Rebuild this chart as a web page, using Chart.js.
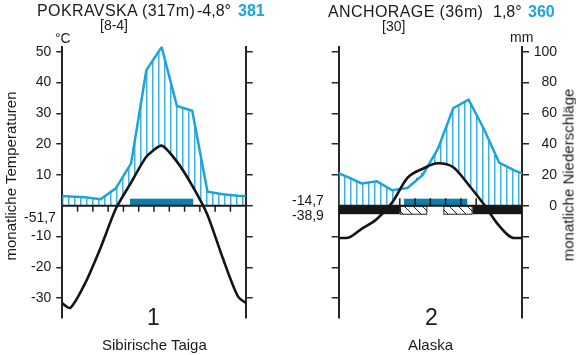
<!DOCTYPE html>
<html><head><meta charset="utf-8">
<script src="https://cdn.jsdelivr.net/npm/chart.js@4.4.1/dist/chart.umd.min.js"></script>
<style>
body{margin:0;background:#fff}
#wrap{position:relative;width:576px;height:355px;overflow:hidden;font-family:"Liberation Sans",Arial,sans-serif;color:#1a1a1a;background:#fff}
.t{position:absolute;white-space:nowrap;line-height:1}
.ttl{letter-spacing:0.4px}
.v{position:absolute;white-space:nowrap;line-height:1;font-size:15px;color:#1a1a1a;transform:translate(-50%,-50%) rotate(-90deg)}
canvas{position:absolute;top:0}
</style></head><body>
<div id="wrap">
<canvas id="c1" width="288" height="355" style="left:0"></canvas>
<canvas id="c2" width="288" height="355" style="left:288px"></canvas>

<span class="t ttl" style="left:37px;top:3px;font-size:16px">POKRAVSKA (317m)</span>
<span class="t" style="left:197px;top:3px;font-size:16px">-4,8°</span>
<span class="t" style="left:238px;top:3px;font-size:16px;font-weight:bold;color:#1ba4dc">381</span>
<span class="t" style="left:100px;top:18px;font-size:14px">[8-4]</span>
<span class="t" style="left:55px;top:31px;font-size:14px">°C</span>
<span class="t" style="left:24px;top:210px;font-size:14px">-51,7</span>
<span class="v" style="left:9.8px;top:175.5px">monatliche Temperaturen</span>
<span class="t" style="left:147px;top:305.5px;font-size:23px">1</span>
<span class="t" style="left:102px;top:337px;font-size:15px">Sibirische Taiga</span>

<span class="t ttl" style="left:328px;top:3.5px;font-size:16px">ANCHORAGE (36m)</span>
<span class="t" style="left:493px;top:3.5px;font-size:16px">1,8°</span>
<span class="t" style="left:528px;top:3.5px;font-size:16px;font-weight:bold;color:#1ba4dc">360</span>
<span class="t" style="left:382px;top:19px;font-size:14px">[30]</span>
<span class="t" style="left:510px;top:30px;font-size:14px">mm</span>
<span class="t" style="left:292px;top:193px;font-size:14px">-14,7</span>
<span class="t" style="left:292px;top:208px;font-size:14px">-38,9</span>
<span class="v" style="left:568px;top:175px">monatliche Niederschläge</span>
<span class="t" style="left:425px;top:305.5px;font-size:23px">2</span>
<span class="t" style="left:408px;top:337px;font-size:15px">Alaska</span>
</div>
<script>
// ---- data ----
const months = ['Jan','Feb','Mär','Apr','Mai','Jun','Jul','Aug','Sep','Okt','Nov','Dez'];
const tempPokravska = [-33.2,-25.1,-13.7,-1,7.5,15.9,19.5,14.3,6.5,-3,-17,-29.5];
const precPokravska = [6,5.5,4.2,11.3,27.5,88,103,64.7,61.7,9.1,7.5,6.5];
const tempAnchorage = [-10.5,-7.5,-4.3,1,9,12,13.8,12.5,6.8,0.5,-6.5,-10.5];
const precAnchorage = [19,14.5,15.8,10,11.5,20,37,63.4,68.8,50,28,23];
const tempTicksLeft = [-30,-20,-10,10,20,30,40,50];
const tempTicksRight = [-30,-20,-10,0,10,20,30,40,50];
const precTicks = [-60,-40,-20,0,20,40,60,80,100];
const frostFree1 = [[4.43,8.57]];
const frostFree2 = [[4.27,8.42]];
const frostBlack2 = [[0,4],[8.77,12]];
const frostHatch2 = [[4,5.8],[6.85,8.77]];
const monthMarks1 = [1,2,3,4,5,6,7,8,9,10,11];
const monthMarks2 = [4,5,6,7,8,9];

// ---- layout ----
const T_MIN = -36.46, T_MAX = 51.69;
const BLUE = '#1ba4dc';

function cyc(vals){
  const pts = [{x:-0.5, y:vals[vals.length-1]}];
  vals.forEach((v,i)=>pts.push({x:i+0.5, y:v}));
  pts.push({x:vals.length+0.5, y:vals[0]});
  return pts;
}
function pat(w,h,draw){
  const c=document.createElement('canvas'); c.width=w; c.height=h;
  const g=c.getContext('2d'); draw(g); return g.createPattern(c,'repeat');
}
const hatch = pat(6,6,g=>{g.fillStyle='#3cb2e3'; g.fillRect(2,0,1.5,6);});
const dots = pat(10,10,g=>{g.fillStyle='#333'; g.fillRect(3,3,1.3,1.3); g.fillRect(8,8,1.3,1.3);});
const diag = pat(9,9,g=>{g.strokeStyle='#222'; g.lineWidth=1; g.beginPath();
  g.moveTo(0,0); g.lineTo(9,9); g.moveTo(-1,8); g.lineTo(1,10); g.moveTo(8,-1); g.lineTo(10,1); g.stroke();});

const decor = {
  id:'decor',
  afterDatasetDraw(chart,args,o){
    if(args.index!==o.afterIndex) return;
    const ctx=chart.ctx, a=chart.chartArea, x=chart.scales.x, y=chart.scales.y;
    const y0=y.getPixelForValue(0), px=v=>x.getPixelForValue(v);
    const line=(x1,y1,x2,y2)=>{ctx.beginPath();ctx.moveTo(x1,y1);ctx.lineTo(x2,y2);ctx.stroke();};
    ctx.save();
    ctx.fillStyle='#161616';
    o.black.forEach(([s,e])=>ctx.fillRect(px(s),y0,px(e)-px(s),8.5));
    o.hatch.forEach(([s,e])=>{const x1=px(s),w=px(e)-x1;
      ctx.fillStyle='#fff';ctx.fillRect(x1,y0,w,8.5);
      ctx.fillStyle=diag;ctx.fillRect(x1,y0,w,8.5);
      ctx.strokeStyle='#222';ctx.lineWidth=1;ctx.strokeRect(x1+0.5,y0+0.5,w-1,8);});
    ctx.fillStyle='#0b7fae';
    o.bars.forEach(([s,e])=>ctx.fillRect(px(s),y0-7,px(e)-px(s),7));
    ctx.strokeStyle='#1a1a1a'; ctx.lineWidth=2; line(a.left,y0,a.right,y0);
    ctx.lineWidth=1.5;
    o.down.forEach(m=>line(px(m),y0,px(m),y0+6));
    o.up.forEach((m,i,arr)=>{const end=(i===0||i===arr.length-1); line(px(m),y0-7.5,px(m),end?y0+6.5:y0);});
    ctx.restore();
  }
};

const tickFont={family:'Liberation Sans',size:14};
function axis(pos,ticks,width,opts){
  return Object.assign({
    position:pos, min:T_MIN, max:T_MAX, z:1,
    afterBuildTicks:s=>{s.ticks=ticks.map(v=>({value:v}));},
    afterFit:s=>{s.width=width;},
    border:{display:true,color:'#262626',width:2},
    grid:{drawOnChartArea:false,drawTicks:true,tickLength:7,color:'#262626',lineWidth:1.5},
    ticks:{display:false,font:tickFont,color:'#1a1a1a',padding:5}
  },opts||{});
}

function makeChart(id,temp,prec,curve,scales,decorOpts,pad){
  const datasets=[
    {data:cyc(prec),yAxisID:'yP',borderWidth:0,borderColor:'rgba(0,0,0,0)',fill:{target:'origin',above:hatch,below:'rgba(0,0,0,0)'},order:5},
    Object.assign({data:cyc(temp),yAxisID:'y',borderWidth:0,borderColor:'rgba(0,0,0,0)',fill:{target:'origin',above:'#fff',below:'rgba(0,0,0,0)'},order:4},curve),
    Object.assign({data:cyc(temp),yAxisID:'y',borderWidth:0,borderColor:'rgba(0,0,0,0)',fill:{target:3,above:dots,below:'rgba(0,0,0,0)'},order:3},curve),
    {data:cyc(prec),yAxisID:'yP',borderColor:BLUE,borderWidth:2.5,fill:false,order:2},
    Object.assign({data:cyc(temp),yAxisID:'y',borderColor:'#141414',borderWidth:2.6,fill:false,order:1},curve)
  ];
  datasets.forEach(d=>{d.pointRadius=0;d.pointHoverRadius=0;d.clip=0;});
  return new Chart(document.getElementById(id),{
    type:'line',
    data:{labels:months,datasets},
    options:{
      responsive:false,animation:false,devicePixelRatio:1,events:[],
      layout:{padding:{top:46.5,bottom:37,left:0,right:pad}},
      plugins:{legend:{display:false},tooltip:{enabled:false},decor:decorOpts},
      scales:Object.assign({x:{type:'linear',min:0,max:12,display:false}},scales)
    },
    plugins:[decor]
  });
}

makeChart('c1',tempPokravska,precPokravska,{tension:0.2},{
  y:axis('left',tempTicksLeft,62.3,{grid:{drawOnChartArea:false,drawTicks:true,tickLength:6,color:'#262626',lineWidth:1.5},
     ticks:{display:true,font:tickFont,color:'#1a1a1a',padding:5}}),
  y2:axis('right',tempTicksRight,42.3),
  yP:{display:false,min:2*T_MIN,max:2*T_MAX}
},{afterIndex:2,bars:frostFree1,black:[],hatch:[],down:monthMarks1,up:[]},0);

makeChart('c2',tempAnchorage,precAnchorage,{cubicInterpolationMode:'monotone'},{
  y:axis('left',tempTicksLeft,50.7),
  yP:axis('right',precTicks,35,{min:2*T_MIN,max:2*T_MAX,
     ticks:{display:true,font:tickFont,color:'#1a1a1a',padding:3,crossAlign:'far',callback:v=>v>=0?String(v):''}})
},{afterIndex:2,bars:frostFree2,black:frostBlack2,hatch:frostHatch2,down:[],up:monthMarks2},19);
</script>
</body></html>
